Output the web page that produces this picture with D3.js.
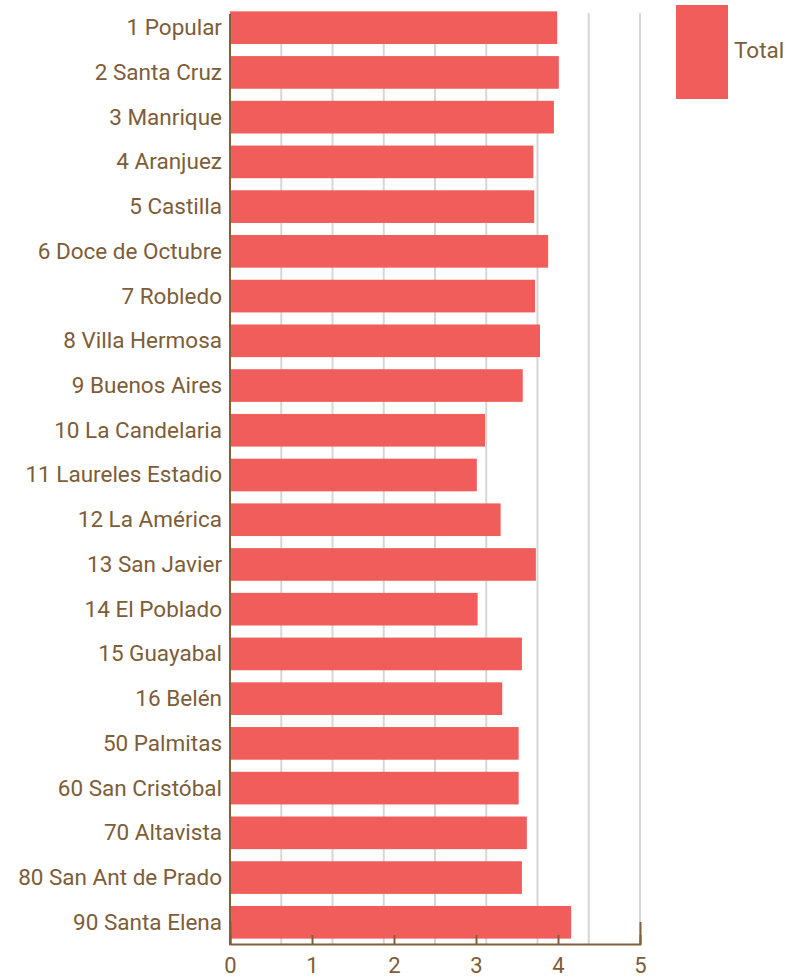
<!DOCTYPE html>
<html>
<head>
<meta charset="utf-8">
<script src="https://cdn.jsdelivr.net/npm/d3@7"></script>
<style>
  body { margin: 0; background: #fff; }
  svg text { font-family: Roboto, "Noto Sans", sans-serif; fill: #7d5d38; }
</style>
</head>
<body>
<div id="chart"></div>
<script>
// comunas and their values
var comunas = ["1 Popular", "2 Santa Cruz", "3 Manrique", "4 Aranjuez", "5 Castilla",
  "6 Doce de Octubre", "7 Robledo", "8 Villa Hermosa", "9 Buenos Aires", "10 La Candelaria",
  "11 Laureles Estadio", "12 La América", "13 San Javier", "14 El Poblado", "15 Guayabal",
  "16 Belén", "50 Palmitas", "60 San Cristóbal", "70 Altavista", "80 San Ant de Prado", "90 Santa Elena"];
var totals = [3.99, 4.01, 3.95, 3.70, 3.71, 3.88, 3.72, 3.78, 3.57, 3.11,
  3.01, 3.30, 3.73, 3.02, 3.56, 3.32, 3.52, 3.52, 3.62, 3.56, 4.16];
var xTicks = [0, 1, 2, 3, 4, 5];
var seriesName = "Total";

var width = 797, height = 977;
var brown = "#80603a", barColor = "#f05d5a";

var svg = d3.select("#chart").append("svg")
  .attr("width", width)
  .attr("height", height);

var x = d3.scaleLinear().domain([0, 5]).range([230, 640]);
var y = d3.scaleBand().domain(comunas).range([6, 944])
  .paddingInner(0.27).paddingOuter(0.12);

// gridlines (8 divisions, not aligned with the ticks)
var grid = d3.range(1, 9).map(function(i){ return i * 5 / 8; });
svg.append("g").selectAll("line")
  .data(grid)
  .enter().append("line")
  .attr("x1", d => x(d)).attr("x2", d => x(d))
  .attr("y1", 13).attr("y2", 944)
  .attr("stroke", "#d6d6d6")
  .attr("stroke-width", 2);

// bars
svg.append("g").selectAll("rect")
  .data(comunas)
  .enter().append("rect")
  .attr("x", x(0))
  .attr("y", d => y(d))
  .attr("width", (d, i) => x(totals[i]) - x(0))
  .attr("height", y.bandwidth())
  .attr("fill", barColor);

// x axis
var xAxis = svg.append("g")
  .attr("transform", "translate(0,944)")
  .call(d3.axisBottom(x).tickValues(xTicks).tickFormat(d3.format("d"))
    .tickSizeInner(-9).tickSizeOuter(-22).tickPadding(13));
xAxis.select(".domain").attr("stroke", brown).attr("stroke-width", 2);
xAxis.selectAll(".tick line").attr("stroke", brown).attr("stroke-width", 2);
xAxis.selectAll(".tick text").style("font-size", "22px").attr("fill", brown);

// y axis
svg.append("line")
  .attr("x1", 230).attr("x2", 230)
  .attr("y1", 14).attr("y2", 945)
  .attr("stroke", brown).attr("stroke-width", 2);

svg.append("g").selectAll("text")
  .data(comunas)
  .enter().append("text")
  .attr("x", 222)
  .attr("y", d => y(d) + y.bandwidth() / 2)
  .attr("dy", "0.33em")
  .attr("text-anchor", "end")
  .style("font-size", "22.5px")
  .text(d => d);

// legend
svg.append("rect")
  .attr("x", 676).attr("y", 5)
  .attr("width", 52).attr("height", 94)
  .attr("fill", barColor);
svg.append("text")
  .attr("x", 734).attr("y", 58)
  .style("font-size", "22.5px")
  .text(seriesName);
</script>
</body>
</html>
